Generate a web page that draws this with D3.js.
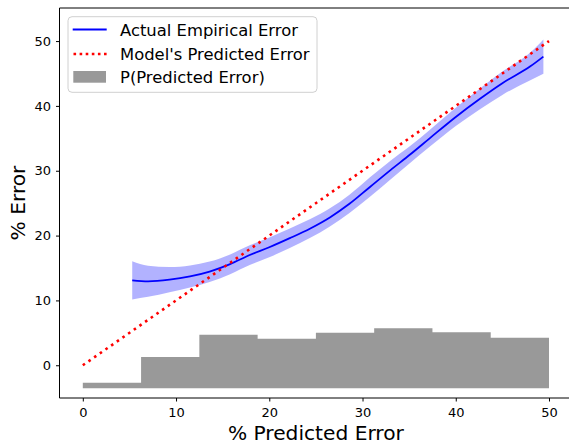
<!DOCTYPE html>
<html>
<head>
<meta charset="utf-8">
<script src="https://cdn.jsdelivr.net/npm/d3@7"></script>
<style>
  html, body { margin: 0; padding: 0; background: #fff; }
  svg { display: block; font-family: "DejaVu Sans", sans-serif; }
</style>
</head>
<body>
<svg id="chart" width="569" height="443"></svg>
<script>
// ---- data ----
const xTicks = [0, 10, 20, 30, 40, 50];
const yTicks = [0, 10, 20, 30, 40, 50];

// empirical error curve (x = predicted error, y = actual)
const curveX     = [5.3, 7, 9.3, 11.5, 13.6, 15.8, 17.9, 20, 22.2, 24.4, 26.5, 28.6, 30.8, 33, 35.1, 37.2, 40, 42.6, 45, 48, 49.4];
const curveY     = [13.1, 12.95, 13.2, 13.7, 14.45, 15.6, 17.0, 18.2, 19.6, 21.1, 22.8, 24.9, 27.5, 30.1, 32.5, 35.0, 38.3, 41.1, 43.5, 46.1, 47.6];
const curveLower = [10.15, 10.55, 11.25, 12.0, 12.85, 14.05, 15.45, 16.65, 18.1, 19.65, 21.4, 23.5, 26.0, 28.65, 31.2, 33.7, 36.9, 39.5, 41.7, 43.95, 44.95];
const curveUpper = [16.05, 15.35, 15.15, 15.4, 16.0, 17.1, 18.5, 19.7, 21.1, 22.55, 24.2, 26.3, 29.0, 31.55, 33.8, 36.3, 39.7, 42.7, 45.3, 48.25, 50.25];

// model's predicted error (identity line)
const modelX = [0, 50];
const modelY = [0, 50];

// histogram of predicted error (bin edges, bar tops, common base)
const binEdges = [0, 6.25, 12.5, 18.75, 25, 31.25, 37.5, 43.75, 50];
const binTops  = [-2.69, 1.28, 4.72, 4.10, 5.03, 5.71, 5.09, 4.26];
const histBase = -3.55;

const legendLabels = ["Actual Empirical Error", "Model's Predicted Error", "P(Predicted Error)"];

// ---- layout ----
const svg = d3.select("#chart");
const pLeft = 59.5, pRight = 572.3, pTop = 8, pBottom = 398;

const x = d3.scaleLinear().domain([-2.5, 52.5]).range([pLeft, pRight]);
const y = d3.scaleLinear().domain([-5.05, 55.1]).range([pBottom, pTop]);

const g = svg.append("g");

// histogram drawn as one stepped area (no seams between bins)
const histPts = binEdges.map((e, i) => ({ x: e, top: binTops[Math.min(i, binTops.length - 1)] }));
g.append("path")
  .datum(histPts)
  .attr("d", d3.area().x(d => x(d.x)).y0(y(histBase)).y1(d => y(d.top)).curve(d3.curveStepAfter))
  .attr("fill", "#999999")
  .attr("stroke", "none");

// band
const pts = curveX.map((v, i) => ({ x: v, y: curveY[i], lo: curveLower[i], hi: curveUpper[i] }));
g.append("path")
  .datum(pts)
  .attr("d", d3.area().x(d => x(d.x)).y0(d => y(d.lo)).y1(d => y(d.hi)).curve(d3.curveMonotoneX))
  .attr("fill", "blue")
  .attr("fill-opacity", 0.3)
  .attr("stroke", "none");

// center line
g.append("path")
  .datum(pts)
  .attr("d", d3.line().x(d => x(d.x)).y(d => y(d.y)).curve(d3.curveMonotoneX))
  .attr("fill", "none")
  .attr("stroke", "blue")
  .attr("stroke-width", 1.8);

// model line
const mpts = modelX.map((v, i) => ({ x: v, y: modelY[i] }));
g.append("path")
  .datum(mpts)
  .attr("d", d3.line().x(d => x(d.x)).y(d => y(d.y)))
  .attr("fill", "none")
  .attr("stroke", "red")
  .attr("stroke-width", 2.6)
  .attr("stroke-dasharray", "2.6,4.3");

// spines
g.append("line").attr("x1", pLeft).attr("x2", pLeft).attr("y1", pTop).attr("y2", pBottom)
  .attr("stroke", "#000").attr("stroke-width", 1);
g.append("line").attr("x1", pLeft).attr("x2", pRight).attr("y1", pBottom).attr("y2", pBottom)
  .attr("stroke", "#000").attr("stroke-width", 1);
g.append("line").attr("x1", pLeft).attr("x2", pRight).attr("y1", pTop).attr("y2", pTop)
  .attr("stroke", "#000").attr("stroke-width", 1);
g.append("line").attr("x1", pRight).attr("x2", pRight).attr("y1", pTop).attr("y2", pBottom)
  .attr("stroke", "#000").attr("stroke-width", 1);

// axes
const xAxis = g.append("g").attr("transform", `translate(0,${pBottom})`)
  .call(d3.axisBottom(x).tickValues(xTicks).tickSize(3.5).tickPadding(5.8).tickFormat(d3.format("d")));
xAxis.select(".domain").remove();
xAxis.selectAll("text").attr("font-size", 13).attr("font-family", "DejaVu Sans").attr("fill", "#000");

const yAxis = g.append("g").attr("transform", `translate(${pLeft},0)`)
  .call(d3.axisLeft(y).tickValues(yTicks).tickSize(3.5).tickPadding(5).tickFormat(d3.format("d")));
yAxis.select(".domain").remove();
yAxis.selectAll("text").attr("font-size", 13).attr("font-family", "DejaVu Sans").attr("fill", "#000");

// axis labels
svg.append("text")
  .attr("x", (pLeft + pRight) / 2).attr("y", 439.5)
  .attr("text-anchor", "middle").attr("font-size", 20.2).attr("fill", "#000")
  .text("% Predicted Error");
svg.append("text")
  .attr("transform", `translate(25,${(pTop + pBottom) / 2}) rotate(-90)`)
  .attr("text-anchor", "middle").attr("font-size", 20.2).attr("fill", "#000")
  .text("% Error");

// legend
const lg = svg.append("g");
lg.append("rect")
  .attr("x", 68).attr("y", 16.7).attr("width", 249).attr("height", 75.6)
  .attr("rx", 4).attr("ry", 4)
  .attr("fill", "#fff").attr("fill-opacity", 0.8)
  .attr("stroke", "#d0d0d0").attr("stroke-width", 1);
const baselines = [36, 59.5, 83];
lg.append("line").attr("x1", 72.7).attr("x2", 106.7).attr("y1", baselines[0] - 6.5).attr("y2", baselines[0] - 6.5)
  .attr("stroke", "blue").attr("stroke-width", 1.8);
lg.append("line").attr("x1", 73.5).attr("x2", 106.7).attr("y1", baselines[1] - 5.5).attr("y2", baselines[1] - 5.5)
  .attr("stroke", "red").attr("stroke-width", 2.6).attr("stroke-dasharray", "2.6,3.5");
lg.append("rect").attr("x", 73.3).attr("y", 71).attr("width", 32.7).attr("height", 11.7)
  .attr("fill", "#999999");
lg.selectAll("text.lbl").data(legendLabels).join("text")
  .attr("class", "lbl")
  .attr("x", 120).attr("y", (d, i) => baselines[i])
  .attr("font-size", 16.4).attr("fill", "#000")
  .text(d => d);
</script>
</body>
</html>
